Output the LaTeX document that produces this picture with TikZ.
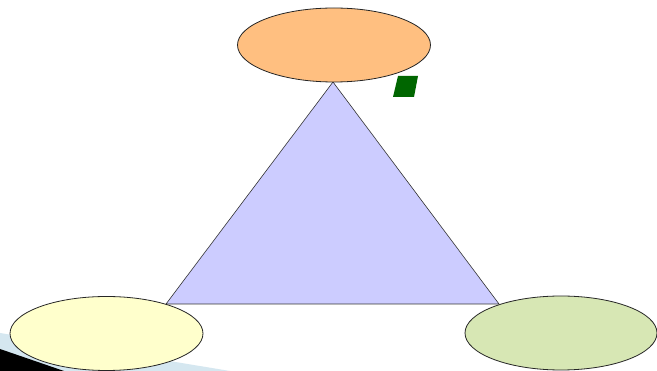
\documentclass[tikz,border=0pt]{standalone}
\usetikzlibrary{shapes.geometric}
\definecolor{orangeC}{HTML}{FFBF80}
\definecolor{yellowC}{HTML}{FFFFCC}
\definecolor{greenC}{HTML}{D7E7B4}
\definecolor{lavC}{HTML}{CCCCFF}
\definecolor{dkgreen}{HTML}{006600}
\definecolor{bandC}{HTML}{D5E7F0}
\begin{document}
\begin{tikzpicture}[x=1pt,y=-1pt,
  oval/.style={draw=black!85,line width=0.8pt,ellipse,inner sep=0pt,minimum width=193pt,minimum height=74pt}]
\useasboundingbox (0,0) rectangle (657,371);
\fill[white] (0,0) rectangle (657,371);
% corner decoration
\fill[bandC] (0,333) -- (230,371) -- (0,371) -- cycle;
\fill[black] (0,349) -- (64,371) -- (0,371) -- cycle;
% triangle
\coordinate (apex) at (333,82);
\coordinate (bl) at (166,304);
\coordinate (br) at (499,304);
\filldraw[fill=lavC,draw=black!80,line width=0.6pt] (apex) -- (bl) -- (br) -- cycle;
% ellipses
\node[oval,fill=orangeC] (top) at (334,45) {};
\node[oval,fill=yellowC] (left) at (106.5,333.5) {};
\node[oval,fill=greenC,minimum width=192pt] (right) at (561,333) {};
% parallelogram
\fill[dkgreen] (398,76) -- (418,76) -- (414,97) -- (393,97) -- cycle;
\end{tikzpicture}
\end{document}
